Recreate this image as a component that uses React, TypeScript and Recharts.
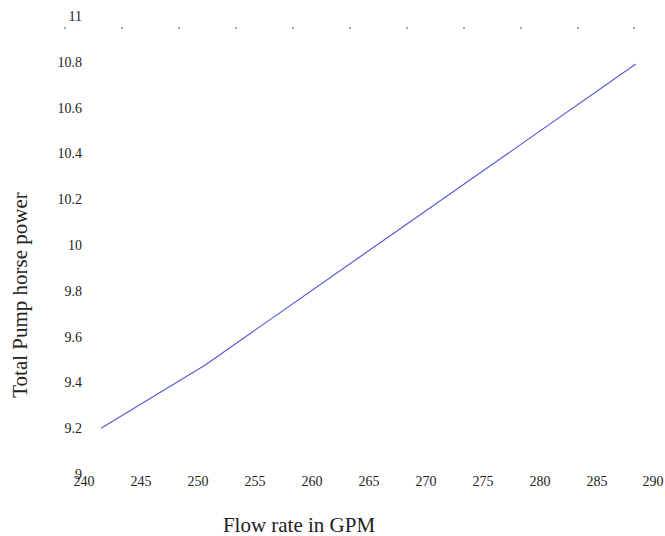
import { Line, LineChart, XAxis, YAxis } from "recharts";

const flowRate = [241.5, 250.6, 288.4];
const pumpHp = [9.2, 9.475, 10.79];
const xTicks = [240, 245, 250, 255, 260, 265, 270, 275, 280, 285, 290];
const yTicks = [9, 9.2, 9.4, 9.6, 9.8, 10, 10.2, 10.4, 10.6, 10.8, 11];

const data = flowRate.map((f, i) => ({ flow: f, hp: pumpHp[i] }));

const font = "Liberation Serif";

// small dots along the top edge (shifted a bit left, like the original)
const TopDot = (props: any) => (
  <circle cx={props.x - 19} cy={props.y + 12} r={1} fill="#888" />
);

const XTick = (props: any) => (
  <text x={props.x} y={props.y + 2} dy="0.71em" textAnchor="middle" fontFamily={font} fontSize={14} fill="#222">
    {props.payload.value}
  </text>
);

const YTick = (props: any) => (
  <text x={props.x} y={props.y} dy="0.355em" textAnchor="end" fontFamily={font} fontSize={14} fill="#222">
    {props.payload.value}
  </text>
);

const YTitle = (props: any) => {
  const vb = props.viewBox;
  const cx = vb.x + 20;
  const cy = vb.y + vb.height / 2 + 50;
  return (
    <text
      x={cx}
      y={cy}
      transform={`rotate(-90 ${cx} ${cy})`}
      textAnchor="middle"
      dominantBaseline="central"
      fontFamily={font}
      fontSize={21}
      fill="#222"
    >
      Total Pump horse power
    </text>
  );
};

export default function App() {
  return (
    <div style={{ position: "absolute", left: 0, top: 0, background: "#fff", fontFamily: font }}>
      <LineChart
        width={665}
        height={536}
        data={data}
        margin={{ top: 15, right: 11, bottom: 32, left: 0 }}
      >
        <XAxis
          dataKey="flow"
          type="number"
          domain={[240, 290]}
          ticks={xTicks}
          axisLine={false}
          tickLine={false}
          tickSize={0}
          tickMargin={0}
          height={30}
          tick={XTick}
          label={{
            value: "Flow rate in GPM",
            position: "bottom",
            offset: 13,
            dx: -70,
            fontFamily: font,
            fontSize: 21,
            fill: "#222",
          }}
        />
        <XAxis
          xAxisId="top"
          orientation="top"
          dataKey="flow"
          type="number"
          domain={[240, 290]}
          ticks={xTicks}
          axisLine={false}
          tickLine={false}
          tickSize={0}
          tickMargin={0}
          height={1}
          tick={TopDot}
        />
        <YAxis
          type="number"
          domain={[9, 11]}
          ticks={yTicks}
          axisLine={false}
          tickLine={false}
          tickSize={0}
          tickMargin={2}
          width={84}
          tick={YTick}
          label={<YTitle />}
        />
        <Line
          dataKey="hp"
          stroke="#5b5bd6"
          strokeWidth={1.2}
          dot={false}
          isAnimationActive={false}
        />
      </LineChart>
    </div>
  );
}
